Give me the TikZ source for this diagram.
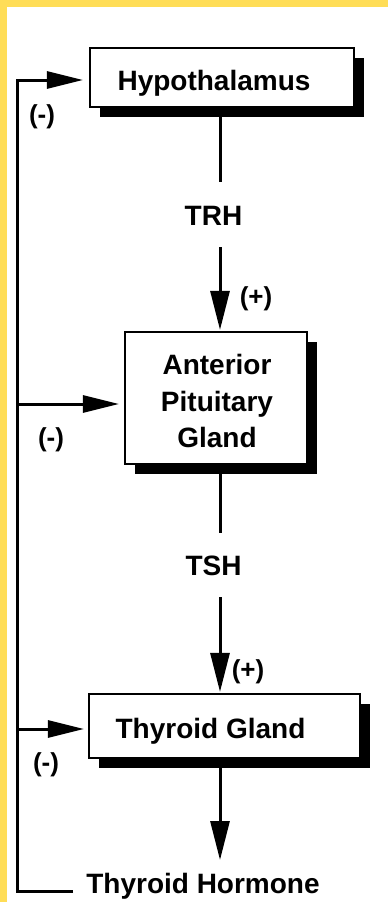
\documentclass[tikz,border=0pt]{standalone}
\usepackage{fontspec}
\setmainfont{Liberation Sans}
\usetikzlibrary{arrows.meta,shadows}

\definecolor{frameyellow}{RGB}{255,221,87}

\begin{document}
\begin{tikzpicture}[x=1pt,y=1pt,
  box/.style={draw, line width=2.2pt, fill=white, inner sep=0pt,
    drop shadow={shadow xshift=10pt, shadow yshift=-10pt, fill=black, opacity=1}},
  lbl/.style={font=\bfseries\fontsize{28}{36.5}\selectfont, inner sep=0pt, align=center},
  sign/.style={font=\bfseries\fontsize{26}{30}\selectfont, inner sep=0pt},
  flow/.style={line width=3pt, line join=miter},
  arr/.style={flow, -{Triangle[length=39pt,width=19pt]}},
  harr/.style={flow, -{Triangle[length=36pt,width=17pt]}},
]
\useasboundingbox (0,0) rectangle (388,-902);

% yellow frame on the top and left edges
\fill[frameyellow] (0,0) rectangle (7,-902);
\fill[frameyellow] (0,0) rectangle (388,-7);

% boxes with drop shadows
\node[box, minimum width=264pt, minimum height=59pt] (hypbox) at (222,-77.5) {};
\node[box, minimum width=182pt, minimum height=132pt] (antbox) at (216,-398) {};
\node[box, minimum width=271pt, minimum height=64pt] (thybox) at (224.5,-726) {};

% texts
\node[lbl, anchor=base] (hyp) at (214,-90) {Hypothalamus};
\node[lbl] (ant) at (217,-401) {Anterior\\Pituitary\\Gland};
\node[lbl, anchor=base] (thy) at (210.5,-738) {Thyroid Gland};
\node[lbl, anchor=base] (trh) at (213.5,-225) {TRH};
\node[lbl, anchor=base] (tsh) at (213.5,-575) {TSH};
\node[lbl, anchor=base] (hormone) at (203,-893) {Thyroid Hormone};

% signs
\node[sign] (plus1) at (256,-299) {(+)};
\node[sign] (plus2) at (248,-672) {(+)};
\node[sign] (minus1) at (42,-117) {(-)};
\node[sign] (minus2) at (51,-440) {(-)};
\node[sign] (minus3) at (46,-765) {(-)};

% main chain
\coordinate (trhtop) at (220,-182);
\coordinate (trhbot) at (220,-247);
\coordinate (tshtop) at (220,-533);
\coordinate (tshbot) at (220,-597);
\coordinate (outtip) at (220,-860);
\draw[flow] (hypbox.south -| trhtop) -- (trhtop);
\draw[arr] (trhbot) -- ([yshift=1pt]antbox.north -| trhbot);
\draw[flow] (antbox.south -| tshtop) -- (tshtop);
\draw[arr] (tshbot) -- ([yshift=1pt]thybox.north -| tshbot);
\draw[arr] (thybox.south -| outtip) -- (outtip);

% negative feedback loop
\coordinate (fbend) at (73,-891);
\coordinate (fbcorner) at (17,-891);
\coordinate (fbtop) at (17,-80);
\coordinate (fbmid) at (17,-404);
\coordinate (fblow) at (17,-729);
\draw[harr, shorten >=6pt] (fbend) -- (fbcorner) -- (fbtop) -- (fbtop -| hypbox.west);
\draw[harr, shorten >=5pt] (fbmid) -- (fbmid -| antbox.west);
\draw[harr, shorten >=4pt] (fblow) -- (fblow -| thybox.west);
\end{tikzpicture}
\end{document}
